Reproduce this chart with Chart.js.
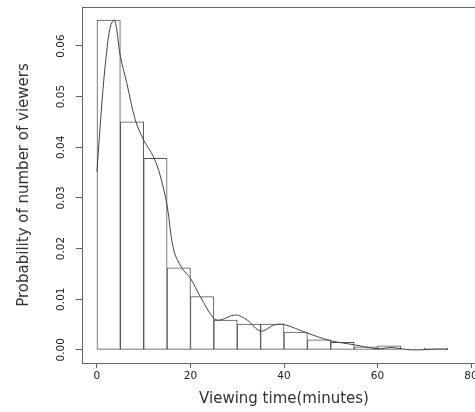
<!DOCTYPE html>
<html lang="en">
<head>
    <meta charset="UTF-8">
    <title>Viewing time histogram</title>
    <script src="https://cdn.jsdelivr.net/npm/chart.js@4"></script>
    <style>
        html, body { margin: 0; padding: 0; background: #fff; overflow: hidden; }
        #wrap { width: 486px; height: 412px; }
    </style>
</head>
<body>
    <div id="wrap"><canvas id="histChart"></canvas></div>
    <script>
        // histogram bins (minutes) and their densities
        const binStarts = [0, 5, 10, 15, 20, 25, 30, 35, 40, 45, 50, 55, 60, 65, 70];
        const binWidth = 5;
        const densities = [0.0651, 0.0450, 0.0378, 0.0162, 0.0105, 0.0059, 0.0051, 0.0051,
                           0.0035, 0.0020, 0.0015, 0.0006, 0.0008, 0.00015, 0.0003];

        // density curve
        const curveX = [0, 1.1, 2.0, 2.9, 3.8, 5, 6.4, 8.2, 10, 12.1, 13.5, 15, 16.4, 18.2, 20,
                        22.1, 25, 26.4, 29.6, 32.1, 35, 37.9, 40, 45, 50, 55, 60, 62.9, 67.2, 72.9, 75];
        const curveY = [0.0352, 0.0493, 0.0582, 0.0640, 0.0651, 0.0580, 0.0526, 0.0454, 0.0414, 0.0381,
                        0.0345, 0.0285, 0.0197, 0.0161, 0.0141, 0.0105, 0.0062, 0.0059, 0.0069, 0.0059,
                        0.0037, 0.0049, 0.0050, 0.0033, 0.0018, 0.0010, 0.0002, 0.00045, 0.0, 0.00014, 0.0001];

        const xTicks = [0, 20, 40, 60, 80];
        const yTicks = [0, 0.01, 0.02, 0.03, 0.04, 0.05, 0.06];

        const axisColor = '#666';
        const textColor = '#222';

        const boxAndLabels = {
            id: 'boxAndLabels',
            afterDraw(chart) {
                const ctx = chart.ctx;
                const a = chart.chartArea;
                ctx.save();
                ctx.strokeStyle = axisColor;
                ctx.lineWidth = 1;
                ctx.strokeRect(Math.round(a.left) + 0.5, Math.round(a.top) + 0.5,
                               Math.round(a.right - a.left), Math.round(a.bottom - a.top));
                // rotated y tick labels, R style
                const y = chart.scales.y;
                ctx.fillStyle = textColor;
                ctx.font = '10.5px "DejaVu Sans"';
                ctx.textAlign = 'center';
                ctx.textBaseline = 'middle';
                yTicks.forEach(v => {
                    ctx.save();
                    ctx.translate(61, y.getPixelForValue(v));
                    ctx.rotate(-Math.PI / 2);
                    ctx.fillText(v.toFixed(2), 0, 0);
                    ctx.restore();
                });
                ctx.restore();
            }
        };

        const ctx = document.getElementById('histChart').getContext('2d');
        const histChart = new Chart(ctx, {
            type: 'bar',
            data: {
                datasets: [{
                    type: 'line',
                    data: curveX.map((x, i) => ({ x: x, y: curveY[i] })),
                    borderColor: '#444',
                    borderWidth: 1,
                    pointRadius: 0,
                    tension: 0.35,
                    fill: false,
                    order: 0
                }, {
                    data: binStarts.map((s, i) => ({ x: s + binWidth / 2, y: densities[i] })),
                    backgroundColor: '#fff',
                    borderColor: '#555',
                    borderWidth: 1,
                    borderSkipped: false,
                    barPercentage: 1,
                    categoryPercentage: 1,
                    order: 1
                }]
            },
            options: {
                responsive: true,
                maintainAspectRatio: false,
                animation: false,
                layout: { padding: { top: 7, left: 0, right: 0, bottom: 0 } },
                plugins: { legend: { display: false }, tooltip: { enabled: false } },
                scales: {
                    x: {
                        type: 'linear',
                        offset: false,
                        min: -3.2,
                        max: 83.2,
                        afterBuildTicks: s => { s.ticks = xTicks.map(v => ({ value: v })); },
                        afterFit: s => { s.height = 49; },
                        border: { display: false },
                        grid: { offset: false, drawOnChartArea: false, drawTicks: true, tickLength: 5, color: axisColor },
                        ticks: {
                            color: textColor,
                            font: { family: 'DejaVu Sans', size: 10.5 },
                            padding: 2,
                            maxRotation: 0,
                            autoSkip: false
                        },
                        title: {
                            display: true,
                            text: 'Viewing time(minutes)',
                            color: '#333',
                            font: { family: 'DejaVu Sans', size: 15 },
                            padding: { top: 0, bottom: 4 }
                        }
                    },
                    y: {
                        min: -0.0026,
                        max: 0.0677,
                        afterBuildTicks: s => { s.ticks = yTicks.map(v => ({ value: v })); },
                        afterFit: s => { s.width = 82; },
                        border: { display: false },
                        grid: { drawOnChartArea: false, drawTicks: true, tickLength: 6, color: axisColor },
                        ticks: { display: false },
                        title: {
                            display: true,
                            text: 'Probability of number of viewers',
                            color: '#333',
                            font: { family: 'DejaVu Sans', size: 15 },
                            padding: { top: 15, bottom: 0 }
                        }
                    }
                }
            },
            plugins: [boxAndLabels]
        });
    </script>
</body>
</html>
